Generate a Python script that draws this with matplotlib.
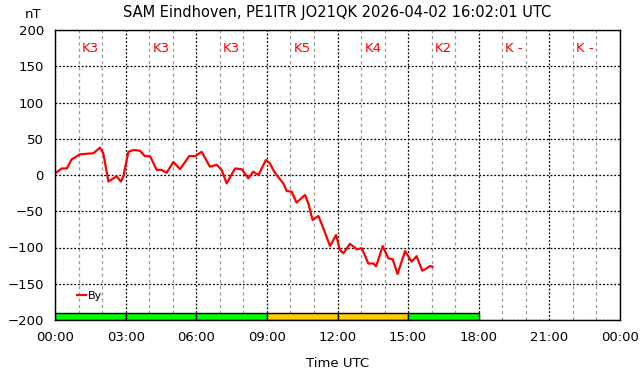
import numpy as np
import matplotlib
matplotlib.use('Agg')
import matplotlib.pyplot as plt
from matplotlib.ticker import MultipleLocator, FuncFormatter

# hours since 00:00 UTC and By in nT
hours = [0.0, 0.28, 0.5, 0.71, 1.06, 1.63, 1.91, 2.05, 2.27, 2.48, 2.62, 2.8, 2.9,
         3.12, 3.33, 3.61, 3.82, 4.04, 4.32, 4.53, 4.74, 5.03, 5.31, 5.7, 5.95,
         6.23, 6.58, 6.87, 7.08, 7.29, 7.65, 7.93, 8.21, 8.42, 8.64, 8.96, 9.13,
         9.27, 9.41, 9.7, 9.84, 10.05, 10.26, 10.62, 10.76, 10.94, 11.19, 11.4,
         11.68, 11.94, 12.1, 12.25, 12.53, 12.82, 13.03, 13.31, 13.52, 13.64,
         13.92, 14.16, 14.34, 14.55, 14.87, 15.15, 15.36, 15.6, 15.79, 15.93, 16.04]
by_nt = [2, 9, 9, 21.6, 28.5, 30, 37.7, 30, -9, -4.6, -2, -9, -2,
         32, 34.5, 33.5, 26, 26, 7, 7, 3, 18, 8, 26, 26,
         32, 11.5, 14, 7, -11.5, 9, 8, -4.6, 4.6, 0, 20.7, 16,
         7, 0, -11.5, -22, -23, -38, -27.6, -39, -62, -56.5, -73.5,
         -98, -82.8, -103.4, -108, -95, -102.5, -101, -122, -122, -126,
         -98, -115, -116, -136.5, -105, -119.5, -112, -132, -128.7, -125.5, -126.5]

# K index per 3-hour block
k_labels = ['K3', 'K3', 'K3', 'K5', 'K4', 'K2', 'K -', 'K -']
k_colors = ['#00ff00', '#00ff00', '#00ff00', '#ffcc00', '#ffcc00', '#00ff00', None, None]

title = 'SAM Eindhoven, PE1ITR JO21QK 2026-04-02 16:02:01 UTC'

fig = plt.figure(figsize=(6.42, 3.76), dpi=100)
ax = fig.add_axes([55 / 642, 56 / 376, 565 / 642, 290 / 376])

ax.set_xlim(0, 24)
ax.set_ylim(-200, 200)

# K-index bars along the bottom
for i, (lab, col) in enumerate(zip(k_labels, k_colors)):
    x0 = i * 3
    if col is not None:
        ax.bar(x0, 10, width=3, bottom=-200, align='edge', color=col,
               edgecolor='black', linewidth=1, zorder=3)
    ax.text(x0 + 1.5, 174, lab, color='red', ha='center', va='center', fontsize=9.5)

ax.plot(hours, by_nt, color='red', linewidth=1.6, label='By', zorder=4)

ax.xaxis.set_major_locator(MultipleLocator(3))
ax.xaxis.set_minor_locator(MultipleLocator(1))
ax.yaxis.set_major_locator(MultipleLocator(50))
ax.xaxis.set_major_formatter(FuncFormatter(lambda v, p: '%02d:00' % (int(round(v)) % 24)))

ax.grid(which='major', color='black', linestyle=(0, (1.5, 1.5)), linewidth=0.9, zorder=1)
ax.grid(which='minor', axis='x', color='#999999', linestyle=(0, (2.5, 2.5)), linewidth=0.9, zorder=1)
ax.set_axisbelow(True)

ax.tick_params(which='both', direction='in', length=0, labelsize=9.5, pad=8)
for s in ax.spines.values():
    s.set_linewidth(1.0)
    s.set_zorder(5)

ax.set_xlabel('Time UTC', fontsize=9.5, labelpad=9)
fig.text(337 / 642, 1 - 12 / 376, title, ha='center', va='center', fontsize=10.5)
fig.text(33 / 642, 1 - 15 / 376, 'nT', ha='center', va='center', fontsize=9.5)

ax.legend(loc='center left', bbox_to_anchor=(0.022, 0.083), frameon=False,
          handlelength=0.8, handletextpad=0.1, fontsize=8)

fig.savefig('out.png', dpi=100)
